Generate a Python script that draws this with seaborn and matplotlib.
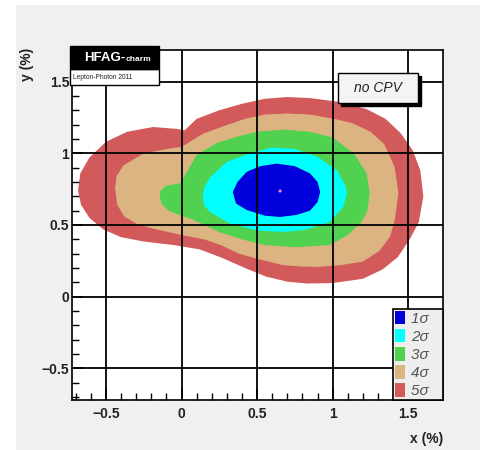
import matplotlib
matplotlib.use("Agg")
import matplotlib.pyplot as plt
import matplotlib.ticker as mticker
from matplotlib.patches import Rectangle, Patch
import seaborn as sns

# contour boundaries (x, y in %)
sigma5_x = [-0.685, -0.665, -0.61, -0.52, -0.40, -0.25, -0.05, 0.12, 0.27, 0.42, 0.56, 0.70, 0.83, 1.0,
            1.20, 1.33, 1.43, 1.51, 1.57, 1.60, 1.58, 1.53, 1.45, 1.35, 1.22, 1.03, 0.85, 0.70, 0.55, 0.40,
            0.25, 0.10, 0.02, -0.03, -0.19, -0.36, -0.50, -0.61, -0.67]
sigma5_y = [0.74, 0.64, 0.55, 0.47, 0.415, 0.385, 0.36, 0.33, 0.27, 0.20, 0.14, 0.105, 0.092, 0.095,
            0.125, 0.19, 0.275, 0.40, 0.52, 0.70, 0.88, 1.02, 1.14, 1.24, 1.31, 1.36, 1.385, 1.392, 1.38, 1.345,
            1.30, 1.24, 1.16, 1.17, 1.183, 1.15, 1.08, 0.97, 0.86]

sigma4_x = [-0.44, -0.425, -0.38, -0.30, -0.19, 0.0, 0.15, 0.26, 0.38, 0.50, 0.67, 0.80, 0.90, 1.05,
            1.20, 1.31, 1.38, 1.41, 1.435, 1.41, 1.34, 1.25, 1.13, 1.03, 0.85, 0.70, 0.55, 0.42, 0.28,
            0.14, 0.0, -0.08, -0.25, -0.385, -0.43]
sigma4_y = [0.754, 0.64, 0.56, 0.51, 0.475, 0.43, 0.40, 0.36, 0.30, 0.265, 0.22, 0.21, 0.208, 0.22,
            0.245, 0.32, 0.42, 0.53, 0.72, 0.905, 1.065, 1.15, 1.21, 1.235, 1.27, 1.277, 1.27, 1.24, 1.19,
            1.135, 1.044, 1.033, 1.0, 0.915, 0.84]

sigma3_x = [-0.145, -0.13, -0.08, 0.08, 0.25, 0.40, 0.55, 0.76, 0.98, 1.10, 1.19, 1.23, 1.245, 1.225,
            1.14, 1.0, 0.85, 0.68, 0.50, 0.40, 0.24, 0.10, 0.025, -0.01, -0.10, -0.14]
sigma3_y = [0.695, 0.645, 0.595, 0.535, 0.45, 0.40, 0.36, 0.345, 0.36, 0.43, 0.52, 0.60, 0.72, 0.86,
            1.0, 1.11, 1.15, 1.165, 1.15, 1.125, 1.075, 0.99, 0.85, 0.79, 0.775, 0.74]

sigma2_x = [0.14, 0.15, 0.19, 0.32, 0.50, 0.67, 0.81, 0.98, 1.07, 1.095, 1.09, 1.03, 0.90, 0.75, 0.60,
            0.45, 0.30, 0.19, 0.15]
sigma2_y = [0.69, 0.635, 0.59, 0.51, 0.462, 0.452, 0.465, 0.52, 0.625, 0.72, 0.76, 0.88, 0.975, 1.03, 1.04,
            1.0, 0.94, 0.835, 0.76]

sigma1_x = [0.339, 0.36, 0.43, 0.55, 0.65, 0.76, 0.85, 0.90, 0.917, 0.90, 0.85, 0.75, 0.63, 0.52, 0.43, 0.37]
sigma1_y = [0.73, 0.65, 0.605, 0.565, 0.556, 0.57, 0.60, 0.66, 0.73, 0.80, 0.86, 0.91, 0.928, 0.91, 0.87, 0.80]

best_x = [0.652]
best_y = [0.737]

levels = ["1σ", "2σ", "3σ", "4σ", "5σ"]
colors = ["#0000dc", "#00ffff", "#50d250", "#dcb482", "#d25a5a"]

x_ticks = [-0.5, 0, 0.5, 1, 1.5]
y_ticks = [-0.5, 0, 0.5, 1, 1.5]

W, H = 481, 450


def fx(px):
    return px / W


def fy(py):
    return 1 - py / H


sns.set_style("white")
plt.rcParams["font.family"] = ["Liberation Sans", "DejaVu Sans"]

fig = plt.figure(figsize=(4.81, 4.5), dpi=100)
fig.patch.set_facecolor("white")
fig.patches.append(Rectangle((fx(16), 0), 1 - fx(16), fy(5), transform=fig.transFigure,
                             facecolor="#f0f0f0", edgecolor="none", zorder=-5))

ax = fig.add_axes([fx(72), fy(400), fx(443) - fx(72), fy(50) - fy(400)])
ax.set_facecolor("white")

# remplissage des contours, du 5 sigma vers le 1 sigma
contours = [(sigma5_x, sigma5_y), (sigma4_x, sigma4_y), (sigma3_x, sigma3_y),
            (sigma2_x, sigma2_y), (sigma1_x, sigma1_y)]
for (cx, cy), col in zip(contours, colors[::-1]):
    ax.fill(cx, cy, color=col, lw=0, zorder=1)

sns.scatterplot(x=best_x, y=best_y, ax=ax, s=5, color="#ff88cc", edgecolor="none", zorder=3)

ax.set_xlim(-0.725, 1.73)
ax.set_ylim(-0.72, 1.72)
ax.set_xticks(x_ticks)
ax.set_yticks(y_ticks)
fmt = mticker.FuncFormatter(lambda v, p: f"{v:g}".replace("-", "\u2212"))
ax.xaxis.set_major_formatter(fmt)
ax.yaxis.set_major_formatter(fmt)
ax.xaxis.set_minor_locator(mticker.MultipleLocator(0.1))
ax.yaxis.set_minor_locator(mticker.MultipleLocator(0.1))
ax.tick_params(which="both", direction="in", top=False, right=False, bottom=True, left=True)
ax.tick_params(which="major", length=8, width=1.2, color="black")
ax.tick_params(which="minor", length=5, width=1.0, color="black")
ax.tick_params(axis="x", which="major", pad=5, labelsize=10)
ax.tick_params(axis="y", which="major", pad=2, labelsize=10)
for lab in ax.get_xticklabels() + ax.get_yticklabels():
    lab.set_fontweight("bold")
    lab.set_color("#222222")
ax.grid(True, which="major", color="black", lw=1.3, zorder=2)
ax.set_axisbelow(False)
for sp in ax.spines.values():
    sp.set_color("black")
    sp.set_linewidth(1.2)

# legende
handles = [Patch(facecolor=c, edgecolor="none") for c in colors]
leg = ax.legend(handles, [f"{l}   " for l in levels], loc="lower right", borderaxespad=0, frameon=True,
                fancybox=False, facecolor="#eeeeee", edgecolor="black", framealpha=1, fontsize=11,
                handlelength=0.65, handleheight=1.0, handletextpad=0.4, labelspacing=0.2,
                borderpad=0.12)
leg.get_frame().set_linewidth(1.2)
for t in leg.get_texts():
    t.set_color("#555555")
    t.set_fontstyle("italic")

# titres des axes
fig.text(fx(443), fy(439), "x (%)", ha="right", va="center", fontsize=10, fontweight="bold", color="#222222")
fig.text(fx(27), fy(64), "y (%)", ha="center", va="center", rotation=90, fontsize=10, fontweight="bold",
         color="#222222")

# etiquette HFAG
fig.patches.append(Rectangle((fx(70), fy(85)), fx(159) - fx(70), fy(69) - fy(85), transform=fig.transFigure,
                             facecolor="white", edgecolor="black", lw=1, zorder=5))
fig.patches.append(Rectangle((fx(70), fy(69)), fx(159) - fx(70), fy(46) - fy(69), transform=fig.transFigure,
                             facecolor="black", edgecolor="black", lw=1, zorder=5))
t1 = fig.text(fx(84), fy(58), "HFAG-", ha="left", va="center", fontsize=9.5, fontweight="bold",
              color="white", zorder=6)
fig.add_artist(plt.Annotation("charm", xy=(1, 0.1), xycoords=t1, ha="left", va="bottom",
                              fontsize=6, fontweight="bold", color="white", zorder=6))
fig.text(fx(73), fy(77.5), "Lepton-Photon 2011", ha="left", va="center", fontsize=4.8, color="#222222",
         zorder=6)

# boite "no CPV"
fig.patches.append(Rectangle((fx(341), fy(106)), fx(421) - fx(341), fy(76) - fy(106), transform=fig.transFigure,
                             facecolor="black", edgecolor="black", lw=1, zorder=5))
fig.patches.append(Rectangle((fx(338), fy(103)), fx(418) - fx(338), fy(73) - fy(103), transform=fig.transFigure,
                             facecolor="#f4f4f4", edgecolor="black", lw=1, zorder=5))
fig.text(fx(378), fy(88), "no CPV", ha="center", va="center", fontsize=10, fontstyle="italic",
         color="#222222", zorder=6)

fig.savefig("out.png", dpi=100, facecolor=fig.get_facecolor())
